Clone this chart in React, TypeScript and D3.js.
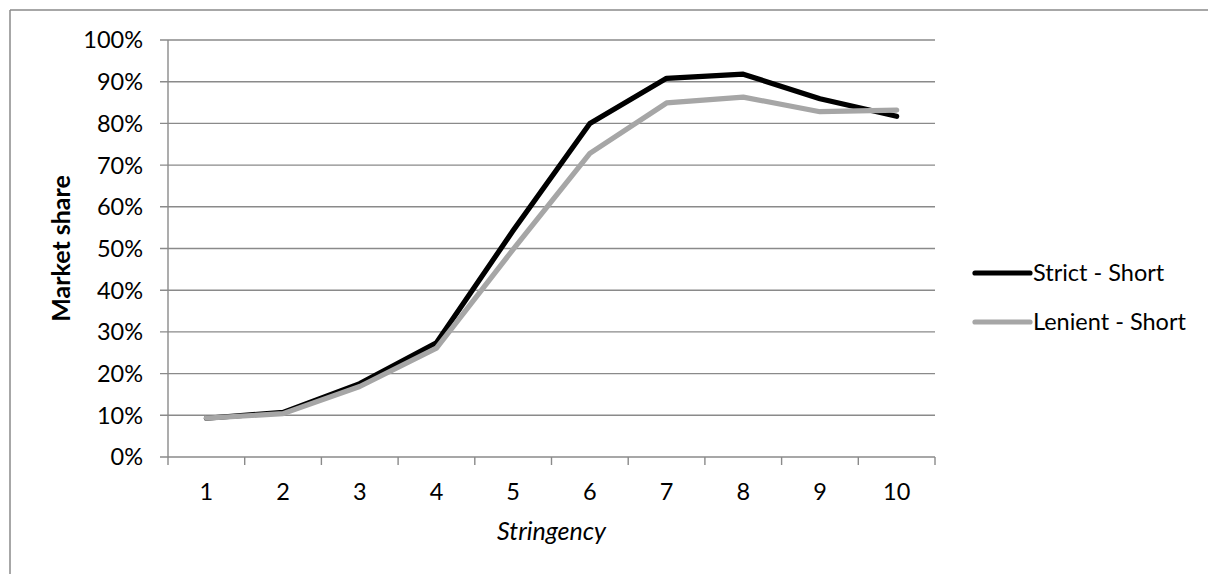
import React from "react";
import * as d3 from "d3";

const W = 1208;
const H = 574;

const categories = ["1", "2", "3", "4", "5", "6", "7", "8", "9", "10"];
const strictShort = [0.093, 0.107, 0.176, 0.274, 0.543, 0.8, 0.908, 0.918, 0.859, 0.817];
const lenientShort = [0.093, 0.104, 0.169, 0.261, 0.498, 0.728, 0.849, 0.863, 0.828, 0.832];
const yTicks = [0, 0.1, 0.2, 0.3, 0.4, 0.5, 0.6, 0.7, 0.8, 0.9, 1];

const series = [
  { name: "Strict - Short", values: strictShort, color: "#000000" },
  { name: "Lenient - Short", values: lenientShort, color: "#a6a6a6" }
];

const FONT = "Lato, 'Open Sans', sans-serif";
const GRID = "#8a8a8a";

export default function App() {
  const plot = { left: 168, right: 935, top: 40, bottom: 457 };

  const x = d3.scaleBand<string>().domain(categories).range([plot.left, plot.right]);
  const y = d3.scaleLinear().domain([0, 1]).range([plot.bottom, plot.top]);
  const fmt = d3.format(".0%");

  const line = d3
    .line<number>()
    .x((_, i) => (x(categories[i]) as number) + x.bandwidth() / 2)
    .y((d) => y(d));

  const boundaries = categories.map((c) => x(c) as number).concat([plot.right]);

  return (
    <svg width={W} height={H} style={{ display: "block", position: "absolute", left: 0, top: 0 }}>
      <rect x={0} y={0} width={W} height={H} fill="#fff" />
      {/* chart frame */}
      <line x1={10} y1={10} x2={W} y2={10} stroke={GRID} strokeWidth={1.5} />
      <line x1={10} y1={10} x2={10} y2={H} stroke={GRID} strokeWidth={1.5} />

      {/* gridlines + y ticks */}
      {yTicks.map((t) => (
        <g key={t}>
          <line x1={plot.left - 8} x2={plot.right} y1={y(t)} y2={y(t)} stroke={GRID} strokeWidth={1.4} />
          <text
            x={143}
            y={y(t)}
            dy="0.36em"
            textAnchor="end"
            fontFamily={FONT}
            fontSize={23.5}
            fill="#000"
          >
            {fmt(t)}
          </text>
        </g>
      ))}

      {/* axes */}
      <line x1={plot.left} x2={plot.left} y1={plot.top} y2={plot.bottom} stroke={GRID} strokeWidth={1.4} />
      {boundaries.map((b, i) => (
        <line key={i} x1={b} x2={b} y1={plot.bottom} y2={plot.bottom + 8} stroke={GRID} strokeWidth={1.4} />
      ))}
      {categories.map((c) => (
        <text
          key={c}
          x={(x(c) as number) + x.bandwidth() / 2}
          y={500}
          textAnchor="middle"
          fontFamily={FONT}
          fontSize={23.5}
          fill="#000"
        >
          {c}
        </text>
      ))}

      {/* series */}
      {series.map((s) => (
        <path
          key={s.name}
          d={line(s.values) ?? ""}
          fill="none"
          stroke={s.color}
          strokeWidth={5.2}
          strokeLinejoin="round"
          strokeLinecap="round"
        />
      ))}

      {/* axis titles */}
      <text
        transform={`translate(70, ${(plot.top + plot.bottom) / 2}) rotate(-90)`}
        textAnchor="middle"
        fontFamily={FONT}
        fontSize={25}
        fontWeight="bold"
        fill="#000"
      >
        Market share
      </text>
      <text
        x={(plot.left + plot.right) / 2}
        y={540}
        textAnchor="middle"
        fontFamily={FONT}
        fontSize={25}
        fontStyle="italic"
        fill="#000"
      >
        Stringency
      </text>

      {/* legend */}
      {series.map((s, i) => {
        const ly = 273 + i * 49;
        return (
          <g key={s.name}>
            <line x1={975} x2={1030} y1={ly} y2={ly} stroke={s.color} strokeWidth={5.2} strokeLinecap="round" />
            <text x={1033} y={ly} dy="0.36em" fontFamily={FONT} fontSize={23.5} fill="#000">
              {s.name}
            </text>
          </g>
        );
      })}
    </svg>
  );
}
